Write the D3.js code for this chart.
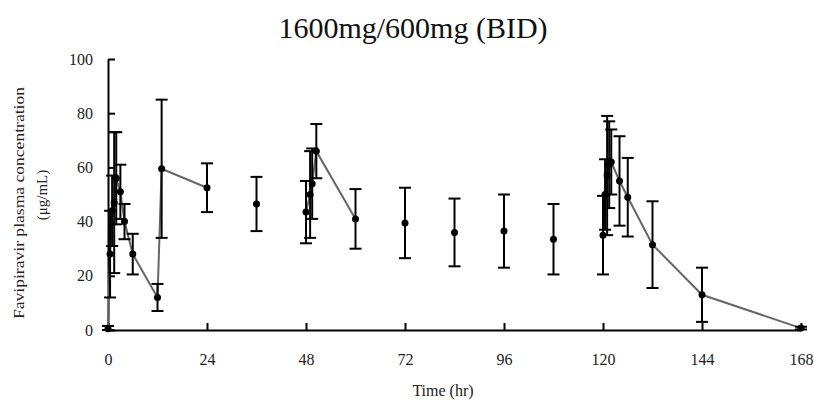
<!DOCTYPE html>
<html>
<head>
<meta charset="utf-8">
<script src="https://d3js.org/d3.v7.min.js"></script>
<style>
  body { margin: 0; background: #fff; }
  text { font-family: "Liberation Serif", "Times New Roman", serif; }
</style>
</head>
<body>
<svg id="chart"></svg>
<script>
  // profile after first dose (connected)
  const times1 = [0, 0.5, 1, 1.5, 2, 3, 4, 6, 12, 13, 24];
  const means1 = [0.5, 28, 44, 47, 56, 51, 40, 28, 12, 59.5, 52.5];
  const sd1    = [1, 16, 13, 26, 17, 10, 6.5, 7.5, 5, 25.5, 9];

  // trough samples (not connected)
  const timesT = [36, 72, 84, 96, 108];
  const meansT = [46.5, 39.5, 36, 36.5, 33.5];
  const sdT    = [10, 13, 12.5, 13.5, 13];

  // day 3 profile
  const times2 = [48, 49, 49.5, 50.5, 60];
  const means2 = [43.5, 50, 54, 66, 41];
  const sd2    = [11.5, 16, 13, 10, 11];

  // last dose profile
  const times3 = [120, 120.5, 121, 121.5, 122, 124, 126, 132, 144, 168];
  const means3 = [35, 50, 57, 61, 62, 55, 49, 31.5, 13, 0.7];
  const sd3    = [14.5, 13, 22, 16, 12, 16.5, 14.5, 16, 10, 0.5];

  const xTicks = [0, 24, 48, 72, 96, 120, 144, 168];
  const yTicks = [0, 20, 40, 60, 80, 100];

  const title = "1600mg/600mg (BID)";
  const xTitle = "Time (hr)";
  const yTitle1 = "Favipiravir plasma concentration";
  const yTitle2 = "(\u03bcg/mL)";

  const W = 814, H = 403;
  const svg = d3.select('#chart').attr('width', W).attr('height', H);

  const x = d3.scaleLinear().domain([0, 168]).range([108, 801]);
  const y = d3.scaleLinear().domain([0, 100]).range([330, 59]);

  const toRows = (t, m, s) => t.map((d, i) => ({t: d, m: m[i], s: s[i]}));
  const profiles = [toRows(times1, means1, sd1), toRows(times2, means2, sd2), toRows(times3, means3, sd3)];
  const troughs = toRows(timesT, meansT, sdT);
  const all = profiles.flat().concat(troughs);

  // axes
  const yAxis = svg.append('g')
    .attr('transform', `translate(${x(0)},0)`)
    .call(d3.axisLeft(y).tickValues(yTicks).tickSizeInner(-7).tickSizeOuter(0).tickPadding(15));
  const xAxis = svg.append('g')
    .attr('transform', `translate(0,${y(0)})`)
    .call(d3.axisBottom(x).tickValues(xTicks).tickSizeInner(-7).tickSizeOuter(0).tickPadding(24));
  [xAxis, yAxis].forEach(a => {
    a.select('.domain').attr('stroke', '#000').attr('stroke-width', 2);
    a.selectAll('.tick line').attr('stroke', '#000').attr('stroke-width', 2);
    a.selectAll('.tick text').attr('font-family', '"Liberation Serif", serif')
      .attr('font-size', 16).attr('fill', '#222');
  });

  // connecting lines
  const line = d3.line().x(d => x(d.t)).y(d => y(d.m));
  svg.selectAll('path.profile')
    .data(profiles)
    .enter().append('path')
    .attr('class', 'profile')
    .attr('d', line)
    .attr('fill', 'none')
    .attr('stroke', '#666')
    .attr('stroke-width', 2);

  // error bars
  const cap = 6;
  const bars = svg.append('g').attr('stroke', '#000').attr('stroke-width', 2);
  all.forEach(d => {
    const lo = Math.max(0, d.m - d.s), hi = d.m + d.s;
    bars.append('line').attr('x1', x(d.t)).attr('x2', x(d.t)).attr('y1', y(lo)).attr('y2', y(hi));
    bars.append('line').attr('x1', x(d.t) - cap).attr('x2', x(d.t) + cap).attr('y1', y(lo)).attr('y2', y(lo));
    bars.append('line').attr('x1', x(d.t) - cap).attr('x2', x(d.t) + cap).attr('y1', y(hi)).attr('y2', y(hi));
  });

  // points
  svg.selectAll('circle')
    .data(all)
    .enter().append('circle')
    .attr('cx', d => x(d.t))
    .attr('cy', d => y(d.m))
    .attr('r', 3.5)
    .attr('fill', '#000');

  // titles
  svg.append('text')
    .attr('x', 413).attr('y', 38)
    .attr('text-anchor', 'middle')
    .attr('font-size', 30).attr('fill', '#111')
    .text(title);

  svg.append('text')
    .attr('x', 443).attr('y', 396)
    .attr('text-anchor', 'middle')
    .attr('font-size', 16).attr('fill', '#222')
    .text(xTitle);

  svg.append('text')
    .attr('transform', 'translate(24,203) rotate(-90)')
    .attr('text-anchor', 'middle')
    .attr('font-size', 14).attr('fill', '#222')
    .attr('textLength', 232).attr('lengthAdjust', 'spacingAndGlyphs')
    .text(yTitle1);

  svg.append('text')
    .attr('transform', 'translate(47,195) rotate(-90)')
    .attr('text-anchor', 'middle')
    .attr('font-size', 15).attr('fill', '#222')
    .text(yTitle2);
</script>
</body>
</html>
